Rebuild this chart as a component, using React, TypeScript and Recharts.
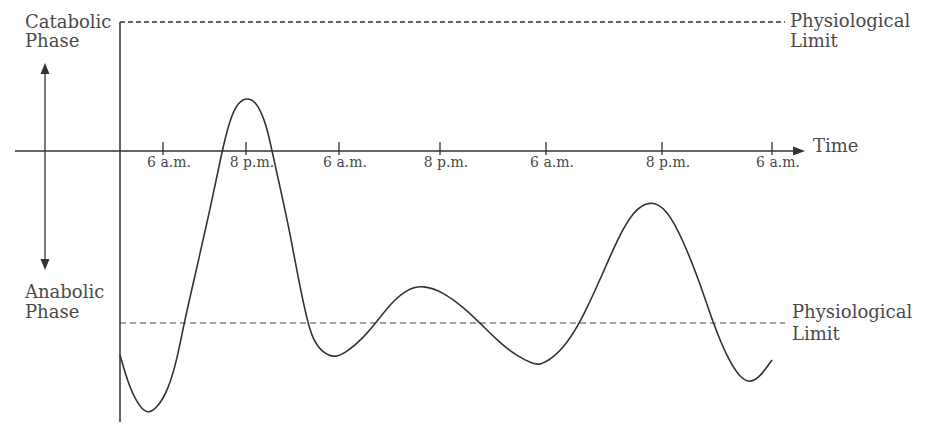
import { ComposedChart, Line, XAxis, YAxis, ReferenceLine, ReferenceDot } from "recharts";

// curve: x = time units along the axis, y = level (0 = axis, + catabolic)
const curveX = [0, 8, 17, 27, 38, 48, 57, 64, 77, 90, 102, 110, 118, 128, 138, 147, 152, 160, 170, 178, 187, 193, 203, 215, 227, 243, 256, 270, 287, 303, 323, 343, 360, 380, 397, 413, 420, 433, 447, 460, 480, 497, 513, 530, 547, 563, 580, 593, 607, 620, 630, 640, 652];
const curveY = [-204, -232, -252, -264, -256, -239, -209, -172, -116, -59, 0, 32, 49, 54, 47, 24, 0, -36, -82, -126, -169, -189, -202, -207, -201, -187, -172, -153, -138, -134, -141, -156, -172, -192, -205, -213, -214, -207, -192, -172, -129, -89, -60, -49, -58, -89, -132, -172, -206, -227, -232, -226, -209];

const tickPos = [43, 126, 219, 320, 426, 542, 652];
const tickLabels = ["6 a.m.", "8 p.m.", "6 a.m.", "8 p.m.", "6 a.m.", "8 p.m.", "6 a.m."];

const upperLimit = 129;
const lowerLimit = -172;
const limitEnd = 665;
const axisStart = -105;
const axisEnd = 685;
const yMin = -271;
const phaseArrowX = -75;
const phaseTop = 88;
const phaseBottom = -119;

const data = curveX.map((x, i) => ({ x, y: curveY[i] }));

const ink = "#333";
const textInk = "#4a4a4a";
const serif = '"DejaVu Serif", serif';

function TickMark(props: any) {
  const { cx, cy, label } = props;
  return (
    <g>
      <line x1={cx} y1={cy - 9} x2={cx} y2={cy + 4} stroke={ink} strokeWidth={1.3} />
      <text x={cx + 6} y={cy + 16} textAnchor="middle" fontFamily={serif} fontSize={14} fill={textInk}>
        {label}
      </text>
    </g>
  );
}

function ArrowRight(props: any) {
  const { cx, cy } = props;
  return <path d={`M${cx},${cy} L${cx - 12},${cy - 4.5} L${cx - 12},${cy + 4.5} Z`} fill={ink} />;
}

function ArrowUp(props: any) {
  const { cx, cy } = props;
  return <path d={`M${cx},${cy} L${cx - 4.5},${cy + 11} L${cx + 4.5},${cy + 11} Z`} fill={ink} />;
}

function ArrowDown(props: any) {
  const { cx, cy } = props;
  return <path d={`M${cx},${cy} L${cx - 4.5},${cy - 11} L${cx + 4.5},${cy - 11} Z`} fill={ink} />;
}

export default function App() {
  return (
    <div style={{ position: "absolute", left: 0, top: 0, width: 933, height: 424, background: "#fff" }}>
      <ComposedChart width={933} height={424} data={data} margin={{ top: 22, right: 128, bottom: 2, left: 15 }}>
        <XAxis dataKey="x" type="number" domain={[axisStart, axisEnd]} hide />
        <YAxis type="number" domain={[yMin, upperLimit]} hide />
        <ReferenceLine
          ifOverflow="visible"
          segment={[{ x: 0, y: upperLimit }, { x: limitEnd, y: upperLimit }]}
          stroke={ink}
          strokeWidth={1.3}
          strokeDasharray="5 3"
        />
        <ReferenceLine
          ifOverflow="visible"
          segment={[{ x: 0, y: lowerLimit }, { x: limitEnd, y: lowerLimit }]}
          stroke="#888"
          strokeWidth={1.3}
          strokeDasharray="6 4"
        />
        <ReferenceLine
          ifOverflow="visible"
          segment={[{ x: 0, y: upperLimit }, { x: 0, y: yMin }]}
          stroke={ink}
          strokeWidth={1.5}
        />
        <ReferenceLine
          ifOverflow="visible"
          segment={[{ x: axisStart, y: 0 }, { x: axisEnd - 8, y: 0 }]}
          stroke={ink}
          strokeWidth={1.5}
        />
        <ReferenceDot ifOverflow="visible" x={axisEnd} y={0} shape={ArrowRight} />
        <ReferenceLine
          ifOverflow="visible"
          segment={[{ x: phaseArrowX, y: phaseTop - 6 }, { x: phaseArrowX, y: phaseBottom + 6 }]}
          stroke={ink}
          strokeWidth={1.3}
        />
        <ReferenceDot ifOverflow="visible" x={phaseArrowX} y={phaseTop} shape={ArrowUp} />
        <ReferenceDot ifOverflow="visible" x={phaseArrowX} y={phaseBottom} shape={ArrowDown} />
        {tickPos.map((t, i) => (
          <ReferenceDot
            key={i}
            ifOverflow="visible"
            x={t}
            y={0}
            shape={(p: any) => <TickMark {...p} label={tickLabels[i]} />}
          />
        ))}
        <Line
          type="basis"
          dataKey="y"
          stroke={ink}
          strokeWidth={1.6}
          dot={false}
          isAnimationActive={false}
        />
      </ComposedChart>
      <svg
        width={933}
        height={424}
        style={{ position: "absolute", left: 0, top: 0, pointerEvents: "none" }}
        fontFamily={serif}
        fontSize={18}
        fill={textInk}
      >
        <text x={25} y={28}>Catabolic</text>
        <text x={25} y={47}>Phase</text>
        <text x={25} y={298}>Anabolic</text>
        <text x={25} y={318}>Phase</text>
        <text x={790} y={27}>Physiological</text>
        <text x={790} y={47}>Limit</text>
        <text x={792} y={318}>Physiological</text>
        <text x={792} y={340}>Limit</text>
        <text x={813} y={152}>Time</text>
      </svg>
    </div>
  );
}
